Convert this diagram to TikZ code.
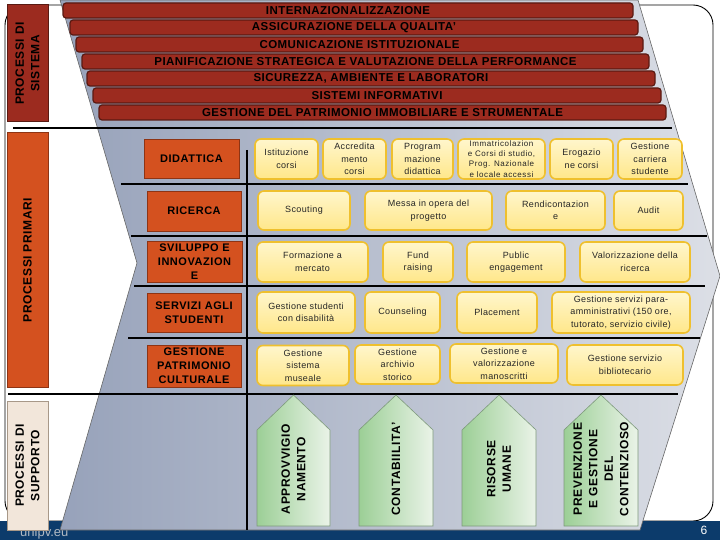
\documentclass[tikz,border=0pt]{standalone}
\usepackage{fontspec}
\setmainfont{Liberation Sans}
\newfontfamily\barfont[LetterSpace=4]{Liberation Sans}
\newfontfamily\labfont[LetterSpace=5]{Liberation Sans}
\newfontfamily\boxfont[LetterSpace=4]{Liberation Sans}
\newfontfamily\smallboxfont[LetterSpace=7]{Liberation Sans}
\definecolor{sysred}{HTML}{9C2B1F}
\definecolor{sysredd}{HTML}{5A1A12}
\definecolor{prim}{HTML}{D4511F}
\definecolor{primd}{HTML}{8E3414}
\definecolor{ybord}{HTML}{EFC02E}
\definecolor{ytop}{HTML}{FFF6CC}
\definecolor{ybot}{HTML}{FFE78A}
\definecolor{gleft}{HTML}{9CCF96}
\definecolor{gright}{HTML}{EAF3E8}
\definecolor{gbord}{HTML}{7E9A7C}
\definecolor{grayL}{HTML}{97A2BA}
\definecolor{grayR}{HTML}{DCDFE6}
\definecolor{navy}{HTML}{0C3B6B}
\definecolor{beige}{HTML}{F2E6DA}
\definecolor{beiged}{HTML}{A89888}
\begin{document}
\begin{tikzpicture}[x=1pt,y=-1pt,
  sysbar/.style={draw=sysredd, line width=1.2pt, fill=sysred, rounded corners=3pt,
    inner sep=0pt, minimum height=15, text=black,
    font=\fontsize{11.5}{12}\selectfont\barfont\bfseries},
  sidebox/.style={rotate=90, inner sep=0pt, align=center, text=black,
    font=\fontsize{12}{15.5}\selectfont\labfont\bfseries},
  lab/.style={draw=primd, fill=prim, line width=0.8pt, inner sep=0pt, align=center,
    text=black, font=\fontsize{11}{14}\selectfont\labfont\bfseries},
  ybox/.style={draw=ybord, line width=1.6pt, top color=ytop, bottom color=ybot,
    rounded corners=6pt, inner sep=0pt, align=center, text=black!85,
    font=\fontsize{9}{12.5}\selectfont\boxfont},
  garrow/.style={draw=gbord, line width=0.6pt, left color=gleft, right color=gright},
  gtext/.style={rotate=90, inner sep=0pt, align=center, text=black,
    font=\fontsize{12}{15.5}\selectfont\labfont\bfseries},
  rowline/.style={line width=2pt, black}
]
\useasboundingbox (0,0) rectangle (720,540);
% outer frame
\draw[line width=0.9pt, rounded corners=20pt] (5,5) rectangle (713,521);
% bottom bar
\fill[navy] (0,521) rectangle (720,540);
\node[anchor=base west, inner sep=0pt, text=black!15!white!80!navy, font=\fontsize{13}{13}\selectfont] (web) at (20,536) {unipv.eu};
% big grey chevron shape
\path[left color=grayL, right color=grayR, draw=black!60, line width=0.6pt]
  (60,0) -- (638,0) -- (720,276) -- (640,530) -- (60,530) -- (137,263) -- cycle;
% separator lines
\draw[rowline] (13,128) -- (672,128);
\draw[rowline] (121,184) -- (688,184);
\draw[rowline] (131,236) -- (707,236);
\draw[rowline] (134,286) -- (705,286);
\draw[rowline] (128,338) -- (700,338);
\draw[rowline] (8,394) -- (678,394);
\draw[rowline] (247,150) -- (247,530);
% system process bars
\node[sysbar, minimum width=570] (s1) at (348,10.5) {INTERNAZIONALIZZAZIONE};
\node[sysbar, minimum width=568] (s2) at (354,27.5) {ASSICURAZIONE DELLA QUALITA’};
\node[sysbar, minimum width=567] (s3) at (359.5,44.5) {COMUNICAZIONE ISTITUZIONALE};
\node[sysbar, minimum width=567] (s4) at (365.5,61.5) {PIANIFICAZIONE STRATEGICA E VALUTAZIONE DELLA PERFORMANCE};
\node[sysbar, minimum width=568] (s5) at (371,78.5) {SICUREZZA, AMBIENTE E LABORATORI};
\node[sysbar, minimum width=568] (s6) at (377,95.5) {SISTEMI INFORMATIVI};
\node[sysbar, minimum width=567] (s7) at (382.5,112.5) {GESTIONE DEL PATRIMONIO IMMOBILIARE E STRUMENTALE};
% side boxes
\node[sidebox, draw=sysredd, line width=1pt, fill=sysred, minimum width=117, minimum height=41] (psis) at (27.5,63.5) {PROCESSI DI\\SISTEMA};
\node[sidebox, draw=primd, line width=1pt, fill=prim, minimum width=254, minimum height=41] (pprim) at (27.5,260) {PROCESSI PRIMARI};
\node[sidebox, draw=beiged, line width=0.8pt, fill=beige, minimum width=129, minimum height=41] (psup) at (27.5,465.5) {PROCESSI DI\\SUPPORTO};
% row labels
\node[lab, minimum width=95, minimum height=39] (did) at (191.5,158.5) {DIDATTICA};
\node[lab, minimum width=94, minimum height=40] (ric) at (194,211) {RICERCA};
\node[lab, minimum width=95, minimum height=41] (svi) at (194.5,261.5) {SVILUPPO E\\INNOVAZION\\E};
\node[lab, minimum width=94, minimum height=39] (ser) at (194,312.5) {SERVIZI AGLI\\STUDENTI};
\node[lab, minimum width=94, minimum height=42] (gpc) at (194,366) {GESTIONE\\PATRIMONIO\\CULTURALE};
% row 1
\node[ybox, minimum width=63, minimum height=40] (ist) at (286.5,159) {Istituzione\\corsi};
\node[ybox, minimum width=63, minimum height=40] (acc) at (354.5,159) {Accredita\\mento\\corsi};
\node[ybox, minimum width=61, minimum height=40] (prg) at (422.5,159) {Program\\mazione\\didattica};
\node[ybox, minimum width=87, minimum height=40, font=\fontsize{8}{10.2}\selectfont\smallboxfont] (imm) at (501.5,159) {Immatricolazion\\e Corsi di studio,\\Prog. Nazionale\\e locale accessi};
\node[ybox, minimum width=63, minimum height=40] (ero) at (581.5,159) {Erogazio\\ne corsi};
\node[ybox, minimum width=64, minimum height=40] (gcs) at (650,159) {Gestione\\carriera\\studente};
% row 2
\node[ybox, minimum width=92, minimum height=39] (sco) at (304,210.5) {Scouting};
\node[ybox, minimum width=127, minimum height=39] (mes) at (428.5,210.5) {Messa in opera del\\progetto};
\node[ybox, minimum width=99, minimum height=39] (ren) at (555.5,210.5) {Rendicontazion\\e};
\node[ybox, minimum width=69, minimum height=39] (aud) at (648.5,210.5) {Audit};
% row 3
\node[ybox, minimum width=111, minimum height=40] (for) at (312.5,262) {Formazione a\\mercato};
\node[ybox, minimum width=70, minimum height=40] (fun) at (418,262) {Fund\\raising};
\node[ybox, minimum width=98, minimum height=40] (pub) at (516,262) {Public\\engagement};
\node[ybox, minimum width=110, minimum height=40] (val) at (635,262) {Valorizzazione della\\ricerca};
% row 4
\node[ybox, minimum width=98, minimum height=41] (gsd) at (306,312.5) {Gestione studenti\\con disabilità};
\node[ybox, minimum width=75, minimum height=41] (cou) at (402.5,312.5) {Counseling};
\node[ybox, minimum width=80, minimum height=41] (pla) at (497,312.5) {Placement};
\node[ybox, minimum width=138, minimum height=41] (gsp) at (621,312.5) {Gestione servizi para-\\amministrativi (150 ore,\\tutorato, servizio civile)};
% row 5
\node[ybox, minimum width=92, minimum height=40] (gsm) at (303,365.5) {Gestione\\sistema\\museale};
\node[ybox, minimum width=85, minimum height=39] (gas) at (397.5,364.5) {Gestione\\archivio\\storico};
\node[ybox, minimum width=108, minimum height=39] (gvm) at (504,363.5) {Gestione e\\valorizzazione\\manoscritti};
\node[ybox, minimum width=116, minimum height=40] (gsb) at (625,365) {Gestione servizio\\bibliotecario};
% support arrows
\path[garrow] (257,430) -- (293.5,395) -- (330,430) -- (330,526) -- (257,526) -- cycle;
\node[gtext] (app) at (293.5,469) {APPROVVIGIO\\NAMENTO};
\path[garrow] (359,430) -- (396,395) -- (433,430) -- (433,526) -- (359,526) -- cycle;
\node[gtext] (con) at (396,469) {CONTABIILITA’};
\path[garrow] (462,430) -- (499,395) -- (536,430) -- (536,526) -- (462,526) -- cycle;
\node[gtext] (ris) at (499,469) {RISORSE\\UMANE};
\path[garrow] (564,430) -- (601,395) -- (638,430) -- (638,526) -- (564,526) -- cycle;
\node[gtext] (pre) at (601,469) {PREVENZIONE\\E GESTIONE\\DEL\\CONTENZIOSO};
% page number
\node[text=white, inner sep=0pt, font=\fontsize{12}{12}\selectfont] (pnum) at (704,530) {6};
\end{tikzpicture}
\end{document}
